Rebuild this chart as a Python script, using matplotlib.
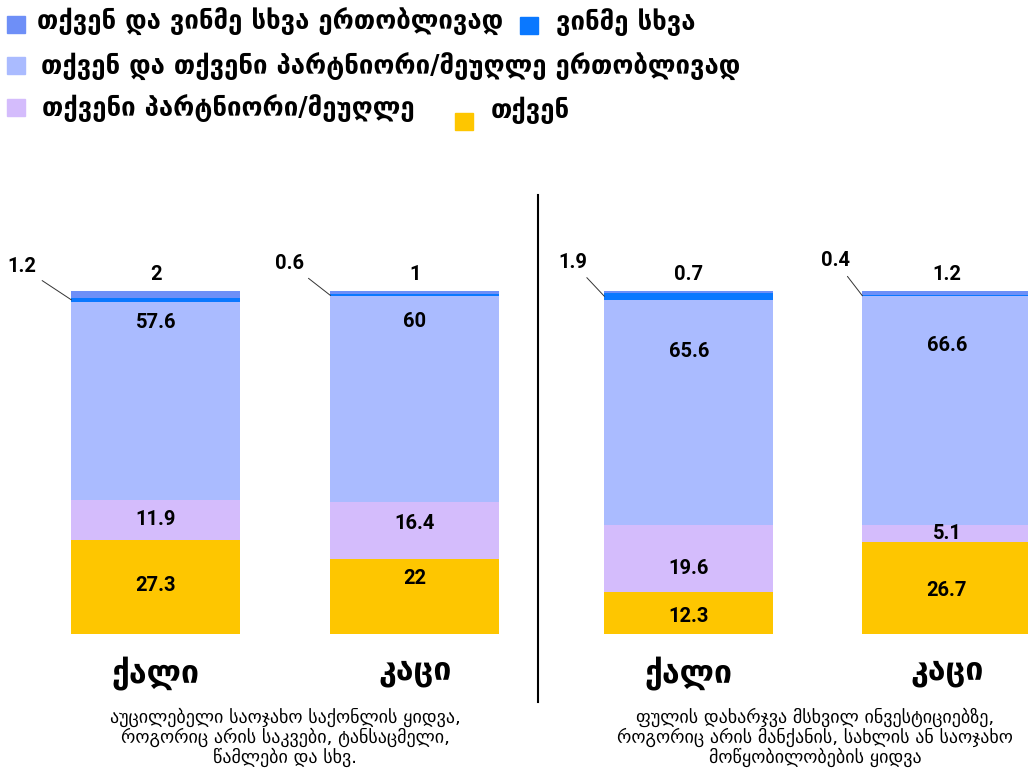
import numpy as np
import matplotlib
matplotlib.use('Agg')
import matplotlib.pyplot as plt
from matplotlib.patches import Rectangle

# ---- data ----
categories = ['ქალი', 'კაცი']
captions = ['აუცილებელი საოჯახო საქონლის ყიდვა,\nროგორიც არის საკვები, ტანსაცმელი,\nწამლები და სხვ.',
            'ფულის დახარჯვა მსხვილ ინვესტიციებზე,\nროგორიც არის მანქანის, სახლის ან საოჯახო\nმოწყობილობების ყიდვა']

series_names = ['თქვენ', 'თქვენი პარტნიორი/მეუღლე',
                'თქვენ და თქვენი პარტნიორი/მეუღლე ერთობლივად',
                'ვინმე სხვა', 'თქვენ და ვინმე სხვა ერთობლივად']
you = [[27.3, 22], [12.3, 26.7]]
partner = [[11.9, 16.4], [19.6, 5.1]]
joint_partner = [[57.6, 60], [65.6, 66.6]]
someone_else = [[1.2, 0.6], [1.9, 0.4]]
joint_other = [[2, 1], [0.7, 1.2]]

colors = ['#fec600', '#d4bcfc', '#aabbff', '#0a78ff', '#6e8ff7']

W, H = 1028, 768
plt.rcParams['font.family'] = ['DejaVu Sans']
fig = plt.figure(figsize=(W / 100, H / 100), dpi=100)

def fx(px):
    return px / W

def fy(py):
    return 1 - py / H

# panel layout in pixels: (left, right), bar spacing
panels = [(13.5, 13.5 + 2.1 * 259, 259), (547, W, 258)]
bottom_px, top_px = 634, 291
lead_off = [[(-50, 33), (-41, 32)], [(-32, 34), (-27, 35)]]
# label heights (axis units) for the three big segments, per panel/bar
label_y = [[[14.0, 16.3], [33.5, 32.1], [90.7, 91.0]],
           [[5.0, 12.8], [19.2, 29.2], [82.5, 84.0]]]
num_font = dict(family=['Roboto', 'DejaVu Sans'], fontsize=14.5, fontweight='bold')

for p, (l, r, step) in enumerate(panels):
    ax = fig.add_axes([fx(l), fy(bottom_px), fx(r - l), (bottom_px - top_px) / H])
    ax.set_xlim(-0.55, -0.55 + (r - l) / step)
    ax.set_ylim(0, 100)
    x = np.arange(len(categories))
    stack = [you[p], partner[p], joint_partner[p], someone_else[p], joint_other[p]]
    base = np.zeros(len(categories))
    width = 169 / step
    for k, vals in enumerate(stack):
        vals = np.array(vals, dtype=float)
        ax.bar(x, vals, width, bottom=base, color=colors[k], linewidth=0)
        for i in range(len(x)):
            v = vals[i]
            lab = f'{v:g}'
            if k <= 2:
                ax.text(x[i], label_y[p][k][i], lab, ha='center', va='center', **num_font)
            elif k == 3:
                ax.annotate(lab, xy=(x[i] - width / 2, base[i] + v / 2),
                            xytext=lead_off[p][i], textcoords='offset pixels',
                            ha='center', va='center',
                            arrowprops=dict(arrowstyle='-', color='#333333', lw=0.7,
                                            shrinkA=3, shrinkB=0), **num_font)
            else:
                ax.annotate(lab, xy=(x[i], base[i] + v), xytext=(0, 16),
                            textcoords='offset pixels', ha='center', va='center',
                            **num_font)
        base = base + vals
    ax.set_xticks(x)
    ax.set_xticklabels(categories, fontsize=23, fontweight='bold')
    ax.tick_params(axis='x', length=0, pad=16)
    ax.set_yticks([])
    for s in ax.spines.values():
        s.set_visible(False)

# captions
fig.text(fx(285), fy(737), captions[0], ha='center', va='center', fontsize=13,
         linespacing=1.05)
fig.text(fx(815), fy(737), captions[1], ha='center', va='center', fontsize=13,
         linespacing=1.05)

# separator
fig.add_artist(plt.Line2D([fx(538), fx(538)], [fy(195), fy(702)], color='black', lw=1.5))

# legend (manual): series index, square centre x/y, text x/y
legend_items = [(4, 16, 24.5, 37, 22), (3, 528.5, 25, 556, 22),
                (2, 16, 65.5, 41, 67), (1, 16, 107.5, 42, 108),
                (0, 464, 121, 491, 110)]
for k, sx, sy, tx, ty in legend_items:
    fig.add_artist(Rectangle((fx(sx - 9), fy(sy + 8.5)), fx(18), 17 / H, color=colors[k],
                             transform=fig.transFigure))
    fig.text(fx(tx), fy(ty), series_names[k], ha='left', va='center', fontsize=18.5,
             fontweight='bold')

fig.savefig('out.png', dpi=100)
